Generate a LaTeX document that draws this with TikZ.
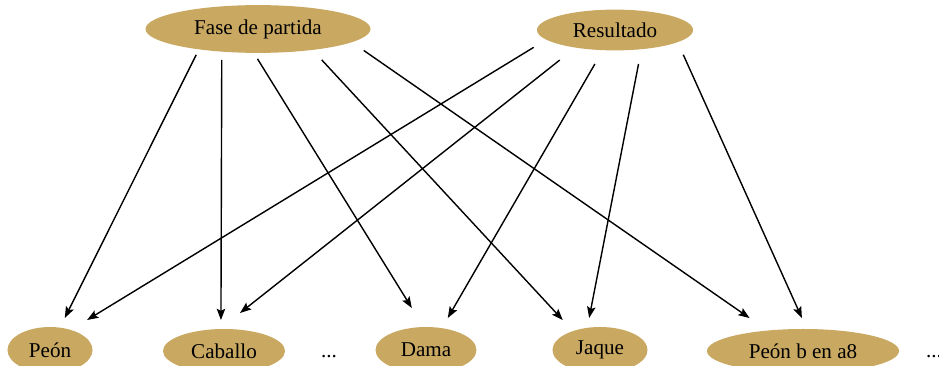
\documentclass[tikz,border=0pt]{standalone}
\usepackage{fontspec}
\setmainfont{Liberation Serif}
\usetikzlibrary{arrows.meta,shapes.geometric}
\definecolor{piecegold}{RGB}{201,168,98}

\begin{document}
\begin{tikzpicture}[x=0.025cm,y=-0.025cm,
    feature/.style={ellipse,fill=piecegold,inner sep=0pt,outer sep=0pt,font=\fontsize{15}{18}\selectfont},
    dots/.style={anchor=base,font=\fontsize{15}{18}\selectfont},
    dep/.style={-{Stealth[length=8pt,width=6pt,inset=1.5pt]},line width=1pt}]
    \useasboundingbox (0,0) rectangle (939,366);
        \node[feature,minimum width=160pt,minimum height=34pt] (fase) at (258,29) {Fase de partida};
        \node[feature,minimum width=111pt,minimum height=29pt] (resultado) at (615,30) {Resultado};
        \node[feature,minimum width=60.5pt,minimum height=32.7pt] (peon) at (50,350) {Peón};
        \node[feature,minimum width=86.8pt,minimum height=31.3pt] (caballo) at (224,351) {Caballo};
        \node[feature,minimum width=71.8pt,minimum height=32.7pt] (dama) at (426,350) {Dama};
        \node[feature,minimum width=67.6pt,minimum height=32.7pt] (jaque) at (600,350) {Jaque};
        \node[feature,minimum width=136.6pt,minimum height=31.3pt] (peonb) at (803,351) {Peón b en a8};
        \node[dots] (gap1) at (329,357) {...};
        \node[dots] (gap2) at (934,357) {...};
        \draw[dep,shorten <=4.4pt,shorten >=7.7pt] (fase.199) -- (peon.66);
        \draw[dep,shorten <=5.9pt,shorten >=6.4pt] (fase.212) -- (caballo.98);
        \draw[dep,shorten <=5pt,shorten >=15.9pt] (fase.260) -- (dama.96);
        \draw[dep,shorten <=9.7pt,shorten >=10.7pt] (fase.339) -- (jaque.145);
        \draw[dep,shorten <=10.3pt,shorten >=15.6pt] (fase.352) -- (peonb.150);
        \draw[dep,shorten <=10.5pt,shorten >=13.6pt] (resultado.188) -- (peon.44);
        \draw[dep,shorten <=14.3pt,shorten >=18.4pt] (resultado.204) -- (caballo.101);
        \draw[dep,shorten <=11.4pt,shorten >=8.4pt] (resultado.239) -- (dama.54);
        \draw[dep,shorten <=10.7pt,shorten >=7.2pt] (resultado.324) -- (jaque.120);
        \draw[dep,shorten <=9.8pt,shorten >=8.6pt] (resultado.349) -- (peonb.80);
    \end{tikzpicture}
\end{document}
